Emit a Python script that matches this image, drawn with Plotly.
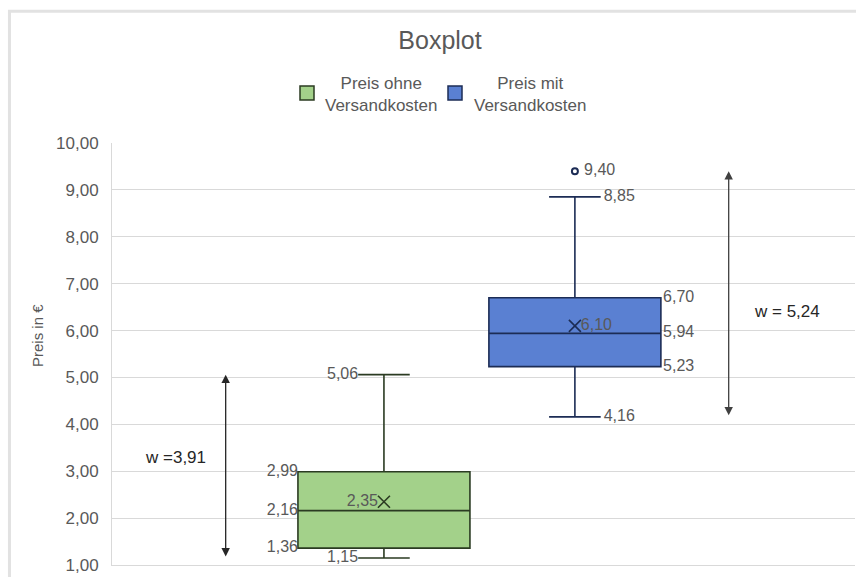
import plotly.graph_objects as go

# Kennwerte der beiden Preisverteilungen
series_names = ["Preis ohne<br>Versandkosten", "Preis mit<br>Versandkosten"]
minimum = [1.15, 4.16]
q1 = [1.36, 5.23]
median = [2.16, 5.94]
q3 = [2.99, 6.70]
whisker_top = [5.06, 8.85]
mean = [2.35, 6.10]
outliers = [[], [9.40]]
spread = [3.91, 5.24]          # w = max - min
maximum = [5.06, 9.40]

tick_values = [1, 2, 3, 4, 5, 6, 7, 8, 9, 10]

fill_colors = ["#a3d18a", "#5a80d2"]
line_colors = ["#2b3b22", "#1c2c55"]
positions = [0.366, 0.623]
box_width = 0.2315

GRAY = "#595959"
FONT = "Liberation Sans, Arial, sans-serif"

# Plotbereich in Pixeln (für Legende, Achsentitel und Rahmen)
L, T, W, H = 112, 143, 743, 422


def px_x(p):
    return (p - L) / W


def px_y(p):
    return (T + H - p) / H


def fmt(v):
    return f"{v:.2f}".replace(".", ",")


fig = go.Figure()

for i in range(2):
    fig.add_trace(go.Box(
        x=[positions[i]],
        q1=[q1[i]], median=[median[i]], q3=[q3[i]],
        lowerfence=[minimum[i]], upperfence=[whisker_top[i]],
        width=box_width, whiskerwidth=0.3,
        fillcolor=fill_colors[i],
        line=dict(color=line_colors[i], width=1.6),
        boxpoints=False,
        name=series_names[i],
        showlegend=False,
        hoverinfo="skip",
    ))

# Mittelwert als Kreuz
for i in range(2):
    fig.add_trace(go.Scatter(
        x=[positions[i]], y=[mean[i]], mode="markers",
        marker=dict(symbol="x-thin", size=12, color=line_colors[i],
                    line=dict(color=line_colors[i], width=1.6)),
        showlegend=False, hoverinfo="skip",
    ))

# Ausreißer
for i in range(2):
    if outliers[i]:
        fig.add_trace(go.Scatter(
            x=[positions[i]] * len(outliers[i]), y=outliers[i], mode="markers+text",
            marker=dict(symbol="circle-open", size=6, color=line_colors[i],
                        line=dict(color=line_colors[i], width=2)),
            text=["\u00a0" + fmt(v) for v in outliers[i]],
            textposition="middle right",
            textfont=dict(family=FONT, size=16, color=GRAY),
            showlegend=False, hoverinfo="skip",
        ))

half = box_width / 2
cap = box_width * 0.3 / 2
label_font = dict(family=FONT, size=16, color=GRAY)

# Beschriftungen: links für die erste, rechts für die zweite Box
vals0 = [q3[0], median[0], q1[0], whisker_top[0], minimum[0], mean[0]]
fig.add_trace(go.Scatter(
    x=[positions[0] - half] * 3 + [positions[0] - cap] * 2 + [positions[0] - 0.008],
    y=vals0, mode="text", text=[fmt(v) for v in vals0],
    textposition="middle left", textfont=label_font,
    showlegend=False, hoverinfo="skip", cliponaxis=False,
))
vals1 = [q3[1], median[1], q1[1], whisker_top[1], minimum[1], mean[1]]
fig.add_trace(go.Scatter(
    x=[positions[1] + half + 0.003] * 3 + [positions[1] + cap + 0.004] * 2 + [positions[1] + 0.008],
    y=vals1, mode="text", text=[fmt(v) for v in vals1],
    textposition="middle right", textfont=label_font,
    showlegend=False, hoverinfo="skip", cliponaxis=False,
))

# Spannweiten-Pfeile
arrow_x = [0.153, 0.830]
arrow_colors = ["#262626", "#404040"]
label_pos = [(0.085, 3.30, "w =" + fmt(spread[0])), (0.908, 6.40, "w = " + fmt(spread[1]))]
for i in range(2):
    fig.add_annotation(
        x=arrow_x[i], y=maximum[i], ax=arrow_x[i], ay=minimum[i],
        xref="x", yref="y", axref="x", ayref="y",
        showarrow=True, arrowhead=2, startarrowhead=2, arrowside="end+start",
        arrowsize=1.3, startarrowsize=1.3, arrowwidth=1.3, arrowcolor=arrow_colors[i],
        text="",
    )
    lx, ly, lt = label_pos[i]
    fig.add_annotation(x=lx, y=ly, xref="x", yref="y", text=lt, showarrow=False,
                       font=dict(family=FONT, size=17, color="#262626"))

# Legende: Farbfeld plus zentrierter, zweizeiliger Text
legend_squares = [300, 448]
legend_text_centers = [381, 530]
for i in range(2):
    fig.add_shape(type="rect", xref="paper", yref="paper",
                  x0=px_x(legend_squares[i]), x1=px_x(legend_squares[i] + 14),
                  y0=px_y(100), y1=px_y(86),
                  fillcolor=fill_colors[i], line=dict(color=line_colors[i], width=1.5))
    fig.add_annotation(x=px_x(legend_text_centers[i]), y=px_y(95), xref="paper", yref="paper",
                       text=series_names[i], showarrow=False, align="center",
                       xanchor="center", yanchor="middle",
                       font=dict(family=FONT, size=17, color=GRAY))

# Achsentitel der y-Achse
fig.add_annotation(x=px_x(37), y=px_y(336), xref="paper", yref="paper",
                   text="Preis in €", textangle=-90, showarrow=False,
                   xanchor="center", yanchor="middle",
                   font=dict(family=FONT, size=15, color=GRAY))

# Rahmen des Diagramms
fig.add_shape(type="rect", xref="paper", yref="paper",
              x0=-0.138, x1=1.02, y0=-0.06, y1=1.312,
              line=dict(color="#e2e2e2", width=3), layer="below")

fig.update_layout(
    width=856, height=577,
    margin=dict(l=L, r=856 - L - W, t=T, b=577 - T - H),
    paper_bgcolor="white", plot_bgcolor="white",
    separators=",.",
    boxmode="overlay",
    showlegend=False,
    title=dict(text="Boxplot", x=440 / 856, xanchor="center", y=1 - 40 / 577, yanchor="middle",
               font=dict(family=FONT, size=25, color=GRAY)),
    xaxis=dict(range=[0, 1], showgrid=False, showticklabels=False, zeroline=False,
               showline=True, linecolor="#d9d9d9", linewidth=1, fixedrange=True),
    yaxis=dict(range=[1, 10], tickvals=tick_values, tickformat=".2f",
               showgrid=True, gridcolor="#d9d9d9", gridwidth=1, zeroline=False,
               showline=True, linecolor="#d9d9d9", linewidth=1,
               ticklabelstandoff=9,
               tickfont=dict(family=FONT, size=17, color=GRAY)),
)

fig.write_html("out.html")
